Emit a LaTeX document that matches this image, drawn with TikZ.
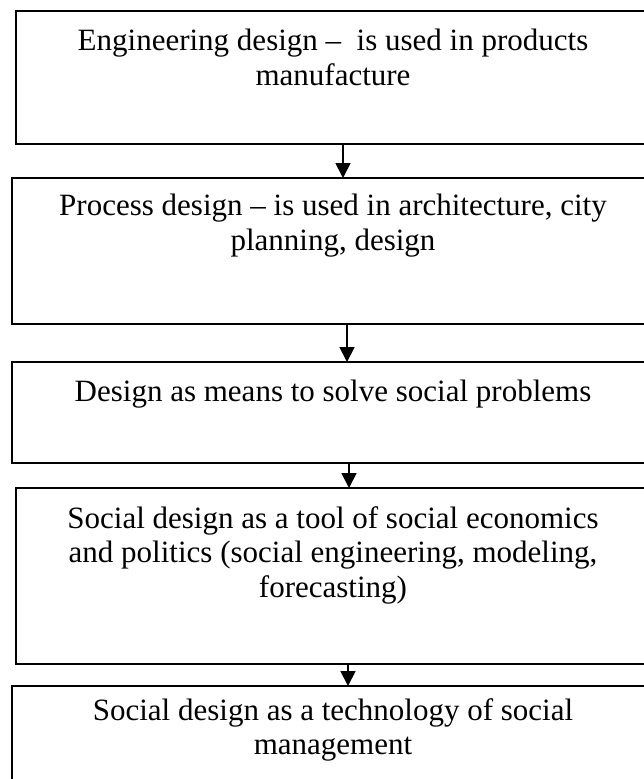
\documentclass[tikz,border=0pt]{standalone}
\usepackage{fontspec}
\setmainfont{Liberation Serif}
\usetikzlibrary{arrows.meta}
\begin{document}
\begin{tikzpicture}[x=1pt,y=-1pt,
  box/.style={draw, line width=1.8pt, rectangle, inner sep=0pt, outer sep=0pt, minimum width=648pt},
  txt/.style={anchor=north, inner sep=0pt, align=center, font=\fontsize{31}{34.5}\selectfont},
  arr/.style={line width=1.8pt, -{Triangle[width=15pt,length=15pt]}}]
\useasboundingbox (0,0) rectangle (644,779);
\node[box, minimum height=133pt] (b1) at (340,77.5) {};
\node[box, minimum height=146pt] (b2) at (336,251) {};
\node[box, minimum height=101pt] (b3) at (336,412.5) {};
\node[box, minimum height=176pt] (b4) at (340,576) {};
\node[box, minimum height=120pt] (b5) at (336,746) {};
\node[txt] (t1) at (333,29) {Engineering design –\ \ is used in products\\manufacture};
\node[txt] (t2) at (333,194) {Process design – is used in architecture, city\\planning, design};
\node[txt] (t3) at (333,380) {Design as means to solve social problems};
\node[txt] (t4) at (333,506) {Social design as a tool of social economics\\and politics (social engineering, modeling,\\forecasting)};
\node[txt] (t5) at (333,698) {Social design as a technology of social\\management};
\coordinate (x1) at (343,0);
\coordinate (x2) at (347,0);
\coordinate (x3) at (349,0);
\coordinate (x4) at (348,0);
\draw[arr] (b1.south -| x1) -- (b2.north -| x1);
\draw[arr] (b2.south -| x2) -- (b3.north -| x2);
\draw[arr] (b3.south -| x3) -- (b4.north -| x3);
\draw[arr] (b4.south -| x4) -- (b5.north -| x4);
\end{tikzpicture}
\end{document}
